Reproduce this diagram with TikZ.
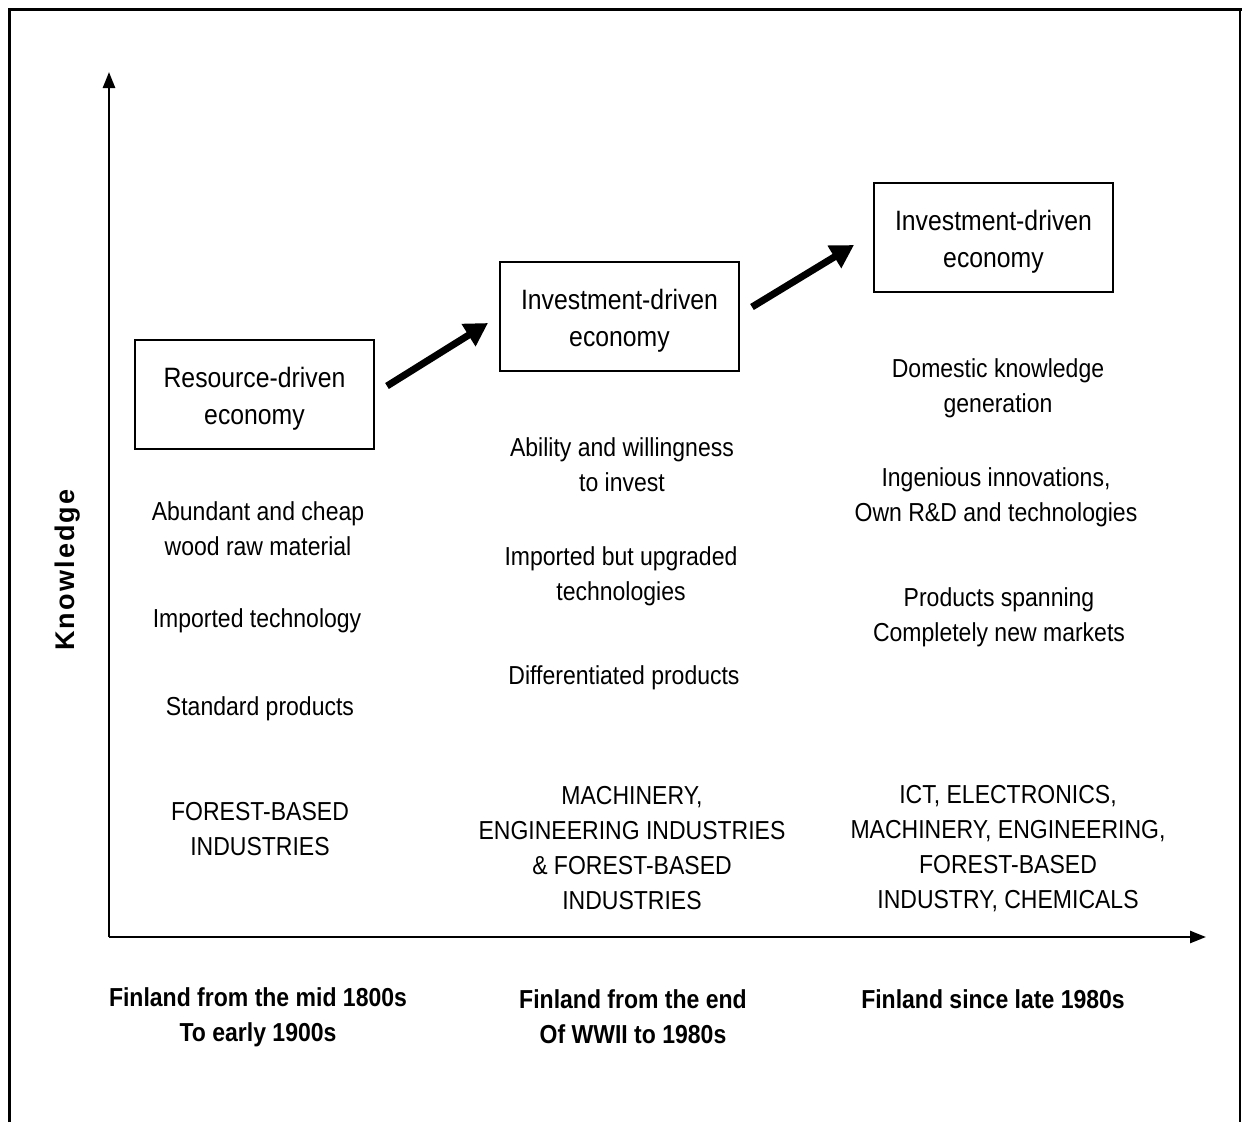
\documentclass[tikz,border=0pt]{standalone}
\usepackage{fontspec}
\setmainfont{Liberation Sans}[FakeStretch=0.885]
\newfontfamily\kfont{Liberation Sans}[LetterSpace=8]
\usetikzlibrary{arrows.meta}
\begin{document}
\begin{tikzpicture}[x=1pt,y=-1pt,
  txt/.style={font=\fontsize{26}{35}\selectfont, align=center, inner sep=0pt},
  btxt/.style={font=\fontsize{26}{35}\selectfont\bfseries, align=center, inner sep=0pt},
  ecobox/.style={draw, line width=1.2pt, minimum width=239pt, minimum height=109pt, inner sep=0pt},
  boxtxt/.style={font=\fontsize{28}{37}\selectfont, align=center, inner sep=0pt},
  bigarrow/.style={line width=7pt, -{Triangle[length=23pt,width=25pt]}},
  axis/.style={line width=2.5pt, -{Triangle[length=16pt,width=12pt]}}]
\useasboundingbox (0,0) rectangle (1242,1122);
% frame
\draw[line width=3pt] (9,1122) -- (9,9) -- (1242,9);
\draw[line width=1.5pt] (1240,9) -- (1240,1122);
% axes
\coordinate (o) at (109,937);
\coordinate (ytip) at (109,72);
\coordinate (xtip) at (1206,937);
\draw[axis] (o) -- (ytip);
\draw[axis] (o) -- (xtip);
\node[rotate=90, inner sep=0pt, font=\fontsize{27}{30}\selectfont\kfont\bfseries] (klab) at (68,570) {Knowledge};
% boxes
\node[ecobox] (b1) at (254.5,394.5) {};
\node[ecobox] (b2) at (619.5,316.5) {};
\node[ecobox] (b3) at (993.5,237.5) {};
\node[boxtxt] (t1) at ([yshift=-4pt]b1.center) {Resource-driven\\economy};
\node[boxtxt] (t2) at ([yshift=-4pt]b2.center) {Investment-driven\\economy};
\node[boxtxt] (t3) at ([yshift=-4pt]b3.center) {Investment-driven\\economy};
\coordinate (a1s) at (387,386);
\coordinate (a1e) at (488,323);
\coordinate (a2s) at (752,307);
\coordinate (a2e) at (854,245);
\draw[bigarrow] (a1s) -- (a1e);
\draw[bigarrow] (a2s) -- (a2e);
% column 1
\node[txt] (c1a) at (258,529) {Abundant and cheap\\wood raw material};
\node[txt] (c1b) at (257,621) {Imported technology};
\node[txt] (c1c) at (260,709) {Standard products};
\node[txt] (c1d) at (260,829) {FOREST-BASED\\INDUSTRIES};
% column 2
\node[txt] (c2a) at (622,465) {Ability and willingness\\to invest};
\node[txt] (c2b) at (621,576) {Imported but upgraded\\technologies};
\node[txt] (c2c) at (624,678) {Differentiated products};
\node[txt] (c2d) at (632,848) {MACHINERY,\\ENGINEERING INDUSTRIES\\\& FOREST-BASED\\INDUSTRIES};
% column 3
\node[txt] (c3a) at (998,388) {Domestic knowledge\\generation};
\node[txt] (c3b) at (996,497) {Ingenious innovations,\\Own R\&D and technologies};
\node[txt] (c3c) at (999,617) {Products spanning\\Completely new markets};
\node[txt] (c3d) at (1008,849) {ICT, ELECTRONICS,\\MACHINERY, ENGINEERING,\\FOREST-BASED\\INDUSTRY, CHEMICALS};
% bottom labels
\node[btxt] (l1) at (258,1017) {Finland from the mid 1800s\\To early 1900s};
\node[btxt] (l2) at (633,1017) {Finland from the end\\Of WWII to 1980s};
\node[btxt] (l3) at (993,999) {Finland since late 1980s};
\end{tikzpicture}
\end{document}
